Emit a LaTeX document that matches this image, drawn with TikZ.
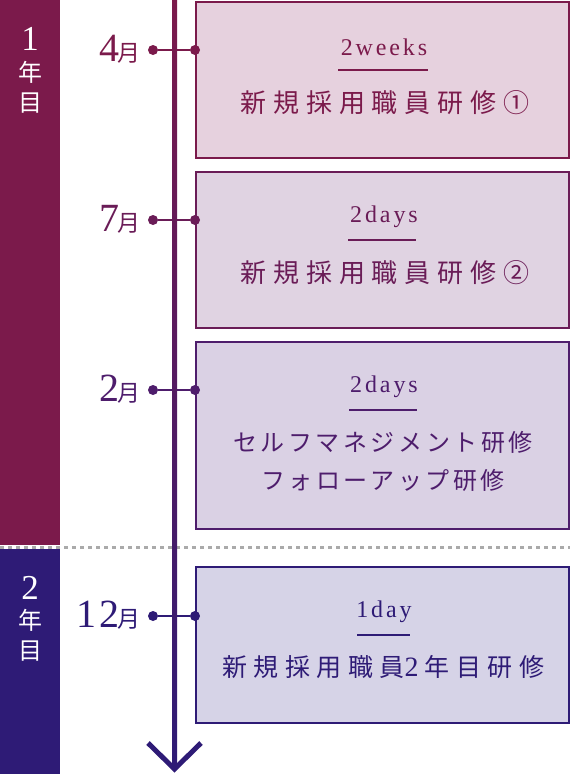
\documentclass[tikz,border=0pt]{standalone}
\usepackage{fontspec}
\newfontfamily\jp{Noto Sans CJK JP}
\newfontfamily\lat{Liberation Serif}
\newfontfamily\latsp[LetterSpace=12]{Liberation Serif}
\newfontfamily\latnum[LetterSpace=8]{Liberation Serif}
\newfontfamily\jpA[LetterSpace=26]{Noto Sans CJK JP}
\newfontfamily\jpB[LetterSpace=15]{Noto Sans CJK JP}
\newfontfamily\jpD[LetterSpace=26]{Noto Sans CJK JP}
\definecolor{cA}{HTML}{7B1A4B}
\definecolor{cB}{HTML}{6A1C57}
\definecolor{cC}{HTML}{4E1D6C}
\definecolor{cD}{HTML}{2E1B76}
\definecolor{fA}{HTML}{E6D1DE}
\definecolor{fB}{HTML}{E0D3E2}
\definecolor{fC}{HTML}{DAD1E4}
\definecolor{fD}{HTML}{D6D3E7}
\definecolor{dotgray}{HTML}{AAAAAA}
\newcommand\tagfont{\latsp\fontsize{24}{26}\selectfont}
\newcommand\ttlfont{\jpA\fontsize{26}{30}\selectfont}
\newcommand\ttlfontB{\jpB\fontsize{24}{38}\selectfont}
\newcommand\ttlfontD{\jpD\fontsize{25}{30}\selectfont}
\newcommand\numfont{\latnum\fontsize{40}{42}\selectfont}
\newcommand\tsukifont{\jp\fontsize{23}{24}\selectfont}
\begin{document}
\begin{tikzpicture}[x=1pt,y=-1pt,
  box/.style={draw, line width=2pt, minimum width=373pt, anchor=north west, inner sep=0pt},
  dot/.style={circle, fill, inner sep=0pt, minimum size=10pt},
  month/.style={anchor=base east, inner sep=0pt},
  tagnode/.style={font=\tagfont, inner sep=0pt},
  yearnum/.style={text=white, font=\lat\fontsize{35}{35}\selectfont, inner sep=0pt},
  yearjp/.style={text=white, font=\jp\fontsize{24}{26}\selectfont, inner sep=0pt},
  link/.style={line width=2pt}]
\useasboundingbox (0,0) rectangle (570,774);
% year bars
\fill[cA] (0,0) rectangle (60,545);
\fill[cD] (0,549) rectangle (60,774);
\draw[dotgray, line width=3pt, dash pattern=on 4pt off 4pt] (0,547) -- (570,547);
% year labels
\node[yearnum] (y1n) at (30,39) {1};
\node[yearjp] (y1a) at (30,72) {年};
\node[yearjp] (y1b) at (30,103) {目};
\node[yearnum] (y2n) at (30,588) {2};
\node[yearjp] (y2a) at (30,620) {年};
\node[yearjp] (y2b) at (30,651) {目};
% boxes
\node[box, draw=cA, fill=fA, minimum height=156pt] (b1) at (195,1) {};
\node[box, draw=cB, fill=fB, minimum height=156pt] (b2) at (195,171) {};
\node[box, draw=cC, fill=fC, minimum height=187pt] (b3) at (195,341) {};
\node[box, draw=cD, fill=fD, minimum height=156pt] (b4) at (195,566) {};
% box texts
\node[tagnode, text=cA] (t1) at (384,47) {2weeks};
\draw[cA, line width=2pt] (338,70) -- (428,70);
\node[inner sep=0pt, text=cA, font=\ttlfont] (m1) at (385,103) {新規採用職員研修①};
\node[tagnode, text=cB] (t2) at (384,217) {2days};
\draw[cB, line width=2pt] (348,240) -- (416,240);
\node[inner sep=0pt, text=cB, font=\ttlfont] (m2) at (385,273) {新規採用職員研修②};
\node[tagnode, text=cC] (t3) at (384,387) {2days};
\draw[cC, line width=2pt] (349,410) -- (417,410);
\node[inner sep=0pt, text=cC, font=\ttlfontB] (m3a) at (383,442) {セルフマネジメント研修};
\node[inner sep=0pt, text=cC, font=\ttlfontB] (m3b) at (383,480) {フォローアップ研修};
\node[tagnode, text=cD] (t4) at (384,612) {1day};
\draw[cD, line width=2pt] (357,635) -- (410,635);
\node[inner sep=0pt, text=cD, font=\ttlfontD] (m4) at (383,667) {新規採用職員{\lat\fontsize{28}{30}\selectfont 2\hspace{6pt}}年目研修};
% month labels
\node[month, text=cA] (mo1) at (141,61) {{\numfont 4}\hspace{-2pt}{\tsukifont 月}};
\node[month, text=cB] (mo2) at (141,231) {{\numfont 7}\hspace{-2pt}{\tsukifont 月}};
\node[month, text=cC] (mo3) at (141,401) {{\numfont 2}\hspace{-2pt}{\tsukifont 月}};
\node[month, text=cD] (mo4) at (141,627) {{\numfont 12}\hspace{-2pt}{\tsukifont 月}};
% dots and links
\node[dot, cA] (d1l) at (153,50) {};
\node[dot, cA] (d1r) at (b1.west |- d1l) {};
\draw[link, cA] (d1l) -- (d1r);
\node[dot, cB] (d2l) at (153,220) {};
\node[dot, cB] (d2r) at (b2.west |- d2l) {};
\draw[link, cB] (d2l) -- (d2r);
\node[dot, cC] (d3l) at (153,390) {};
\node[dot, cC] (d3r) at (b3.west |- d3l) {};
\draw[link, cC] (d3l) -- (d3r);
\node[dot, cD] (d4l) at (153,616) {};
\node[dot, cD] (d4r) at (b4.west |- d4l) {};
\draw[link, cD] (d4l) -- (d4r);
% timeline
\shade[top color=cA, bottom color=cD] (172,0) rectangle (177,768);
\coordinate (tip) at (174.5,769);
\coordinate (al) at (148,743);
\coordinate (ar) at (201,743);
\draw[cD, line width=5pt, miter limit=10] (al) -- (tip) -- (ar);
\end{tikzpicture}
\end{document}
